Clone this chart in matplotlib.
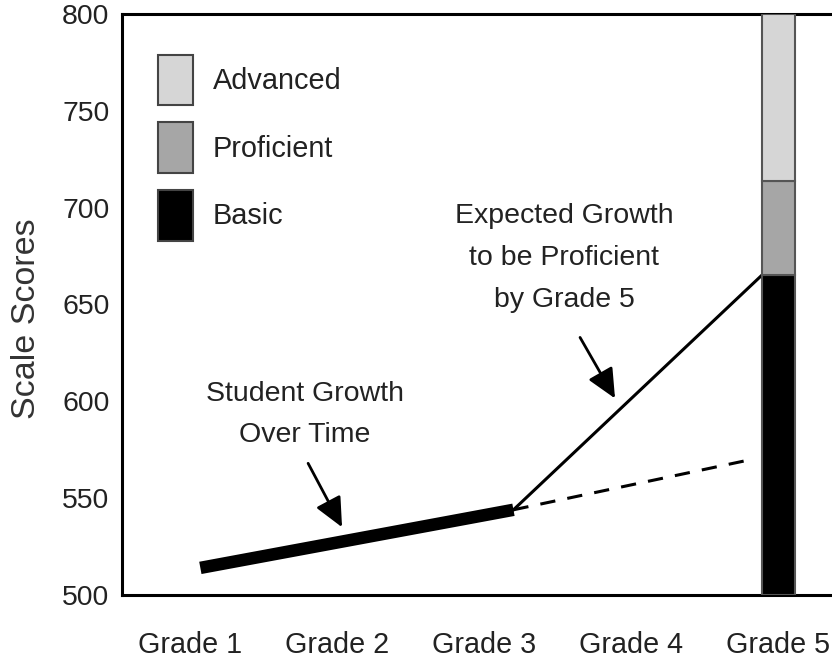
import matplotlib
matplotlib.use("Agg")
import matplotlib.pyplot as plt
from matplotlib import font_manager
from matplotlib.patches import Patch

plt.rcParams["font.family"] = ["Liberation Sans", "DejaVu Sans"]

# the reference uses a narrow sans for ticks and legend
names = {f.name for f in font_manager.fontManager.ttflist}
if "Liberation Sans Narrow" in names:
    narrow = ["Liberation Sans Narrow", "Liberation Sans"]
    xtick_fs, ytick_fs, leg_fs = 24.5, 23.5, 25
else:
    narrow = ["Liberation Sans", "DejaVu Sans"]
    xtick_fs, ytick_fs, leg_fs = 20.7, 20.4, 20.8

# data
grades = ["Grade 1", "Grade 2", "Grade 3", "Grade 4", "Grade 5"]
grade_pos = [1, 2, 3, 4, 5]

student_x = [1.07, 3.2]
student_y = [514, 544]

expected_x = [3.2, 4.888]
expected_y = [544, 665]

trend_x = [3.2, 4.82]
trend_y = [544, 570]

levels = ["Basic", "Proficient", "Advanced"]
level_low = [500, 665, 714]
level_high = [665, 714, 800]
level_colors = ["#000000", "#a6a6a6", "#d6d6d6"]

fig = plt.figure(figsize=(8.32, 6.62), dpi=100, facecolor="white")
ax = fig.add_axes([122 / 832, 1 - 595 / 662, 1 - 122 / 832, (595 - 14) / 662])

# grade 5 stacked bar
for lo, hi, c in zip(level_low, level_high, level_colors):
    ax.bar(5, hi - lo, bottom=lo, width=0.224, color=c,
           edgecolor="#555555", linewidth=1.5, zorder=3)

ax.plot(trend_x, trend_y, color="black", lw=2.2, ls=(0, (5, 4)),
        solid_capstyle="butt", zorder=2)
ax.plot(expected_x, expected_y, color="black", lw=2.2, zorder=2)
ax.plot(student_x, student_y, color="black", lw=9, solid_capstyle="butt", zorder=4)

# annotations
arrow = dict(arrowstyle="-|>,head_length=0.6,head_width=0.28", color="black",
             lw=2, mutation_scale=30, shrinkA=0, shrinkB=0)
ax.text(1.78, 593, "Student Growth\nOver Time", ha="center", va="center",
        fontsize=20.5, color="#222222", linespacing=1.75)
ax.annotate("", xy=(2.034, 535), xytext=(1.803, 568), arrowprops=arrow)

ax.text(3.544, 674, "Expected Growth\nto be Proficient\nby Grade 5",
        ha="center", va="center", fontsize=20.5, color="#222222",
        linespacing=1.78)
ax.annotate("", xy=(3.891, 601.5), xytext=(3.653, 633), arrowprops=arrow)

handles = [Patch(facecolor=c, edgecolor="#444444", linewidth=1.5)
           for c in level_colors[::-1]]
ax.legend(handles, levels[::-1], loc="upper left",
          bbox_to_anchor=(0.05, 0.93), borderaxespad=0, borderpad=0,
          frameon=False, prop={"family": narrow, "size": leg_fs},
          handlelength=25.2 / leg_fs, handleheight=48 / leg_fs,
          handletextpad=14.4 / leg_fs, labelspacing=12.5 / leg_fs,
          labelcolor="#222222")

ax.set_xlim(0.537, 5.367)
ax.set_ylim(500, 800)
ax.set_xticks(grade_pos)
ax.set_xticklabels(grades, family=narrow, fontsize=xtick_fs)
ax.set_yticks([500, 550, 600, 650, 700, 750, 800])
ax.set_yticklabels([str(v) for v in ax.get_yticks().astype(int)],
                   family=narrow, fontsize=ytick_fs)
ax.tick_params(length=0, labelcolor="#222222")
ax.tick_params(axis="x", pad=26)
ax.tick_params(axis="y", pad=9)
ax.set_ylabel("Scale Scores", fontsize=24.5, color="#333333")
ax.yaxis.set_label_coords(-0.113, 0.475)

ax.spines["right"].set_visible(False)
for s in ["left", "top", "bottom"]:
    ax.spines[s].set_linewidth(2.2)

fig.savefig("out.png", dpi=100, facecolor="white")
